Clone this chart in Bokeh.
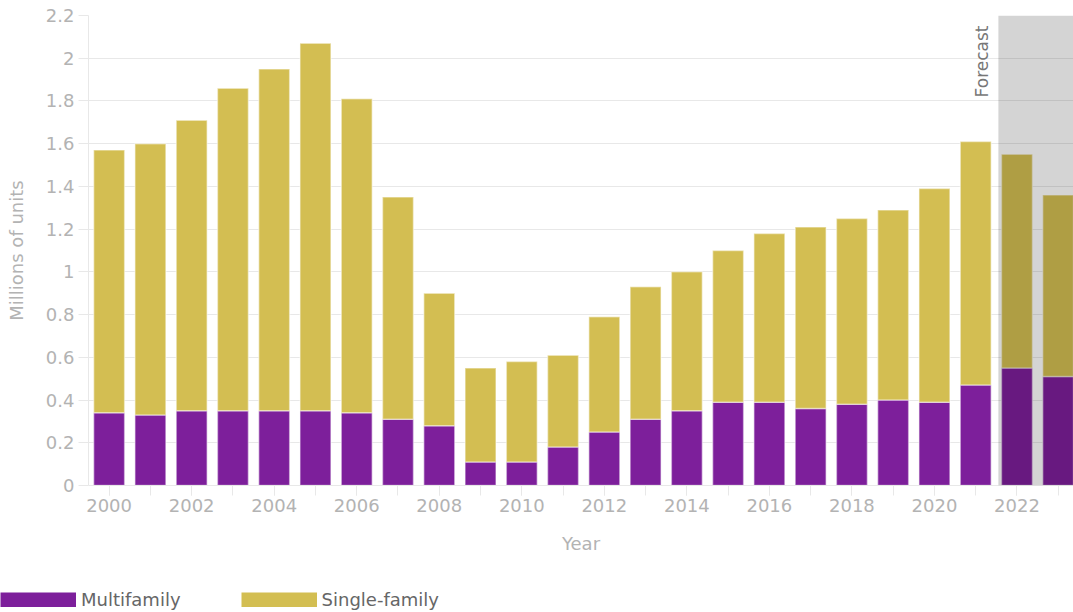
import math
from bokeh.plotting import figure
from bokeh.layouts import column, row
from bokeh.models import (ColumnDataSource, FixedTicker, BoxAnnotation, Legend,
                          LegendItem, Label, Range1d)
from bokeh.embed import file_html
from bokeh.resources import INLINE

# ---------------- data ----------------
years = list(range(2000, 2024))
multifamily = [0.34, 0.33, 0.35, 0.35, 0.35, 0.35, 0.34, 0.31, 0.28, 0.11, 0.11, 0.18,
               0.25, 0.31, 0.35, 0.39, 0.39, 0.36, 0.38, 0.40, 0.39, 0.47, 0.55, 0.51]
single_family = [1.23, 1.27, 1.36, 1.51, 1.60, 1.72, 1.47, 1.04, 0.62, 0.44, 0.47, 0.43,
                 0.54, 0.62, 0.65, 0.71, 0.79, 0.85, 0.87, 0.89, 1.00, 1.14, 1.00, 0.85]
series_names = ["Multifamily", "Single-family"]
y_ticks = [0, 0.2, 0.4, 0.6, 0.8, 1.0, 1.2, 1.4, 1.6, 1.8, 2.0, 2.2]
y_tick_labels = ["0", "0.2", "0.4", "0.6", "0.8", "1", "1.2", "1.4", "1.6", "1.8", "2", "2.2"]
x_ticks = list(range(2000, 2024, 2))
forecast_start = 2021.55
forecast_label = "Forecast"

PURPLE = "#7d1f9b"
GOLD = "#d3be52"
FONT = "DejaVu Sans"
TICK_COLOR = "#b3b3b3"
GRID = "#e8e8e8"

src = ColumnDataSource(dict(year=years, multi=multifamily, single=single_family))

p = figure(width=1073, height=560, x_range=(1999.5, 2023.37), y_range=(0, 2.2),
           output_backend="svg", toolbar_location=None,
           min_border_left=88, min_border_right=0, min_border_top=15, min_border_bottom=75)
p.outline_line_color = None
p.background_fill_color = "white"
p.border_fill_color = "white"

r = p.vbar_stack(["multi", "single"], x="year", width=0.75, source=src,
                 color=[PURPLE, GOLD], line_color="white", line_alpha=0.45, line_width=1.5)

# forecast shading
p.add_layout(BoxAnnotation(left=forecast_start, fill_color="black", fill_alpha=0.17,
                           line_color=None, level="overlay"))
p.add_layout(Label(x=forecast_start - 0.05, y=2.2, text=forecast_label, angle=math.pi / 2,
                   text_align="right", text_baseline="bottom", x_offset=-4, y_offset=-10,
                   text_font=FONT, text_font_size="17px", text_color="#777777"))

# axes
p.xaxis.ticker = FixedTicker(ticks=x_ticks, minor_ticks=years)
p.yaxis.ticker = FixedTicker(ticks=y_ticks)
p.yaxis.major_label_overrides = {t: l for t, l in zip(y_ticks, y_tick_labels)}
for ax in (p.xaxis[0], p.yaxis[0]):
    ax.axis_line_color = GRID
    ax.major_tick_line_color = GRID
    ax.minor_tick_line_color = GRID
    ax.major_tick_in = 0
    ax.major_tick_out = 10
    ax.minor_tick_in = 0
    ax.minor_tick_out = 10
    ax.major_label_text_font = FONT
    ax.major_label_text_font_size = "18px"
    ax.major_label_text_color = TICK_COLOR
    ax.axis_label_text_font = FONT
    ax.axis_label_text_font_size = "18px"
    ax.axis_label_text_color = TICK_COLOR
    ax.axis_label_text_font_style = "normal"
p.yaxis.minor_tick_out = 0
p.xaxis.axis_label = "Year"
p.yaxis.axis_label = "Millions of units"
p.xaxis.major_label_standoff = 3
p.xaxis.axis_label_standoff = 18
p.yaxis.major_label_standoff = 4
p.yaxis.axis_label_standoff = 16

p.xgrid.grid_line_color = None
p.ygrid.grid_line_color = GRID
p.ygrid.ticker = FixedTicker(ticks=y_ticks)

# ---------------- legend strip ----------------
lf = figure(width=1073, height=52, output_backend="svg", toolbar_location=None,
            min_border_left=0, min_border_right=0, min_border_top=0, min_border_bottom=0,
            x_axis_type=None, y_axis_type=None,
            x_range=Range1d(0, 1), y_range=Range1d(0, 1))
lf.outline_line_color = None
lf.grid.visible = False
lr = [lf.line(x=[-5, -4], y=[-5, -5], line_width=15, color=c) for c in (PURPLE, GOLD)]
legend = Legend(items=[LegendItem(label=series_names[0], renderers=[lr[0]]),
                       LegendItem(label=series_names[1], renderers=[lr[1]])],
                orientation="horizontal", location=(0, 2),
                glyph_width=76, glyph_height=15, label_standoff=5, spacing=60,
                padding=0, margin=0, border_line_color=None, background_fill_alpha=0,
                label_text_font=FONT, label_text_font_size="18px", label_text_color="#666666")
lf.add_layout(legend, "center")

open("out.html", "w").write(file_html(column(p, row(lf), spacing=0), INLINE))
